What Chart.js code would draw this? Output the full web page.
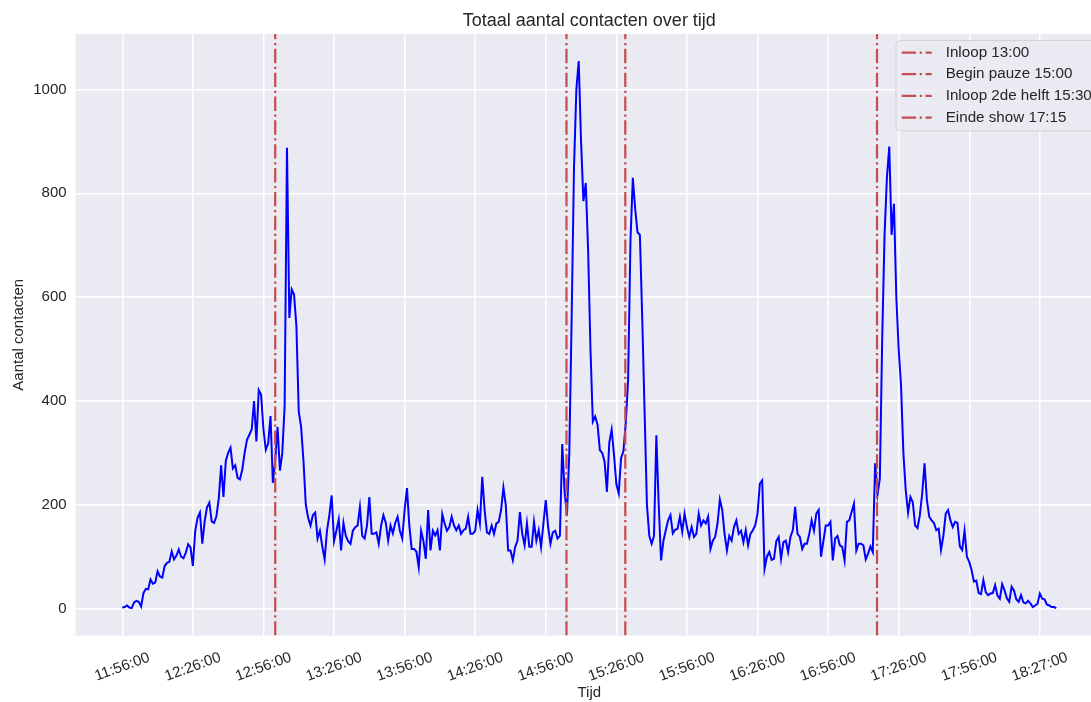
<!DOCTYPE html>
<html>
<head>
<meta charset="utf-8">
<title>Totaal aantal contacten over tijd</title>
<script src="https://cdn.jsdelivr.net/npm/chart.js@4.4.1/dist/chart.umd.min.js"></script>
<style>
  html, body { margin: 0; padding: 0; background: #fff; overflow: hidden; }
  canvas { display: block; }
</style>
</head>
<body>
<canvas id="chart" width="1104" height="702"></canvas>
<script>
// x axis is the sample index, one sample per minute-ish
const tickIndex = [0, 30, 60, 90, 120, 150, 180, 210, 240, 270, 300, 330, 360, 390];
const tickLabels = ['11:56:00', '12:26:00', '12:56:00', '13:26:00', '13:56:00', '14:26:00', '14:56:00',
                    '15:26:00', '15:56:00', '16:26:00', '16:56:00', '17:26:00', '17:56:00', '18:27:00'];
const yTicks = [0, 200, 400, 600, 800, 1000];

const eventIndex = [65, 188.8, 213.8, 320.8];
const eventLabels = ['Inloop 13:00', 'Begin pauze 15:00', 'Inloop 2de helft 15:30', 'Einde show 17:15'];

const contacts = [
  2, 3, 6, 2, 1, 12, 15, 13, 4, 30,
  38, 37, 56, 48, 50, 72, 62, 60, 82, 88,
  90, 110, 95, 102, 114, 100, 97, 108, 124, 118,
  82, 150, 175, 185, 125, 168, 195, 204, 168, 165,
  178, 212, 276, 215, 285, 300, 310, 270, 276, 252,
  249, 268, 300, 325, 335, 345, 400, 322, 421, 412,
  345, 306, 318, 371, 242, 286, 350, 266, 300, 390,
  888, 560, 615, 605, 545, 380, 350, 285, 200, 175,
  160, 180, 185, 135, 150, 120, 95, 150, 180, 218,
  130, 150, 172, 112, 165, 140, 130, 125, 150, 157,
  160, 196, 140, 135, 160, 215, 144, 144, 147, 125,
  160, 180, 165, 131, 160, 145, 165, 177, 150, 135,
  190, 232, 160, 115, 115, 110, 80, 150, 130, 96,
  190, 112, 150, 141, 151, 112, 182, 164, 150, 157,
  177, 160, 151, 160, 144, 151, 154, 177, 144, 144,
  150, 190, 164, 254, 190, 147, 144, 160, 144, 164,
  167, 190, 233, 200, 112, 112, 93, 119, 131, 186,
  144, 122, 164, 119, 119, 167, 131, 151, 119, 164,
  209, 157, 125, 147, 150, 135, 140, 317, 225, 180,
  300, 560, 850, 1000, 1055, 900, 785, 820, 690, 500,
  360, 370, 355, 305, 300, 283, 225, 320, 345, 296,
  240, 222, 290, 303, 358, 441, 709, 830, 770, 725,
  720, 560, 380, 200, 140, 125, 140, 334, 200, 93,
  130, 151, 170, 180, 145, 152, 154, 177, 148, 183,
  157, 138, 157, 138, 144, 183, 160, 170, 164, 177,
  115, 131, 138, 164, 210, 190, 144, 112, 140, 131,
  157, 170, 144, 150, 128, 151, 122, 144, 151, 160,
  183, 241, 247, 77, 100, 109, 94, 96, 130, 138,
  96, 128, 131, 109, 138, 151, 196, 144, 138, 115,
  125, 125, 144, 170, 150, 183, 190, 100, 130, 160,
  160, 167, 93, 135, 140, 122, 119, 93, 167, 170,
  186, 202, 112, 125, 125, 122, 95, 106, 120, 109,
  280, 220, 250, 520, 720, 830, 890, 720, 780, 600,
  500, 430, 300, 228, 185, 215, 205, 160, 155, 180,
  222, 280, 209, 177, 170, 165, 151, 154, 113, 140,
  183, 190, 170, 157, 167, 165, 120, 113, 150, 100,
  90, 74, 52, 54, 30, 28, 55, 32, 26, 29,
  30, 45, 25, 19, 47, 35, 20, 13, 42, 35,
  18, 13, 26, 12, 10, 15, 10, 3, 6, 9,
  29, 19, 18, 8, 6, 3, 3, 1
];

const Y_MIN = -52, Y_MAX = 1107;
const FONT = '"Liberation Sans", Arial, sans-serif';
const TEXT = '#262626';
const RED = '#c44e52';
const DASHDOT = [14.4, 3.6, 2.25, 3.6];

Chart.defaults.font.family = FONT;
Chart.defaults.color = TEXT;

// background, title, rotated x labels and the legend box (matplotlib style)
const extras = {
  id: 'extras',
  beforeDraw(chart) {
    const {ctx, chartArea: a} = chart;
    ctx.save();
    ctx.fillStyle = '#eaeaf2';
    ctx.fillRect(a.left, a.top, a.right - a.left, a.bottom - a.top);
    ctx.restore();
  },
  afterDraw(chart) {
    const {ctx, chartArea: a} = chart;
    const xs = chart.scales.x;
    ctx.save();

    ctx.fillStyle = TEXT;
    ctx.font = '18px ' + FONT;
    ctx.textAlign = 'center';
    ctx.textBaseline = 'middle';
    ctx.fillText('Totaal aantal contacten over tijd', (a.left + a.right) / 2, 21);

    ctx.font = '15px ' + FONT;
    tickIndex.forEach((v, k) => {
      ctx.save();
      ctx.translate(xs.getPixelForValue(v), 667);
      ctx.rotate(-20 * Math.PI / 180);
      ctx.fillText(tickLabels[k], 0, 0);
      ctx.restore();
    });

    // legend
    const box = {left: 896, top: 40.5, right: 1096, bottom: 131};
    ctx.beginPath();
    ctx.roundRect(box.left, box.top, box.right - box.left, box.bottom - box.top, 4);
    ctx.fillStyle = 'rgba(234,234,242,0.8)';
    ctx.fill();
    ctx.strokeStyle = 'rgba(204,204,204,0.8)';
    ctx.lineWidth = 1;
    ctx.stroke();

    const items = chart.data.datasets.filter(d => d.inLegend);
    items.forEach((d, k) => {
      const y = 52.5 + k * 21.7;
      ctx.beginPath();
      ctx.setLineDash(d.borderDash);
      ctx.strokeStyle = d.borderColor;
      ctx.lineWidth = d.borderWidth;
      ctx.moveTo(901.7, y);
      ctx.lineTo(931.7, y);
      ctx.stroke();
      ctx.setLineDash([]);
      ctx.fillStyle = TEXT;
      ctx.font = '15.2px ' + FONT;
      ctx.textAlign = 'left';
      ctx.fillText(d.label, 945.7, y);
    });
    ctx.restore();
  }
};

const datasets = [{
  label: 'Aantal contacten',
  data: contacts.map((v, i) => ({x: i, y: v})),
  borderColor: '#0000ff',
  borderWidth: 2,
  pointRadius: 0,
  order: 2
}];
eventIndex.forEach((x, k) => {
  datasets.push({
    label: eventLabels[k],
    inLegend: true,
    data: [{x: x, y: Y_MIN}, {x: x, y: Y_MAX}],
    borderColor: RED,
    borderWidth: 2.25,
    borderDash: DASHDOT,
    pointRadius: 0,
    order: 1
  });
});

new Chart(document.getElementById('chart'), {
  type: 'line',
  data: {datasets: datasets},
  options: {
    responsive: false,
    animation: false,
    events: [],
    layout: {padding: {top: 34, right: 1, left: 0, bottom: 0}},
    plugins: {
      legend: {display: false},
      tooltip: {enabled: false}
    },
    scales: {
      x: {
        type: 'linear',
        min: -19.85,
        max: 416.85,
        afterBuildTicks: s => { s.ticks = tickIndex.map(v => ({value: v})); },
        afterFit: s => { s.height = 66.4; },
        ticks: {display: false},
        grid: {color: '#ffffff', lineWidth: 1.5, drawTicks: false},
        border: {display: false},
        title: {display: true, text: 'Tijd', font: {size: 15, lineHeight: 1.2}, padding: {top: 0, bottom: 0}, color: TEXT}
      },
      y: {
        min: Y_MIN,
        max: Y_MAX,
        afterBuildTicks: s => { s.ticks = yTicks.map(v => ({value: v})); },
        afterFit: s => { s.width = 75.6; },
        ticks: {font: {size: 15}, color: TEXT, padding: 9, callback: v => String(v)},
        grid: {color: '#ffffff', lineWidth: 1.5, drawTicks: false},
        border: {display: false},
        title: {display: true, text: 'Aantal contacten', font: {size: 15, lineHeight: 1.2}, padding: {top: 10, bottom: 0}, color: TEXT}
      }
    }
  },
  plugins: [extras]
});
</script>
</body>
</html>
